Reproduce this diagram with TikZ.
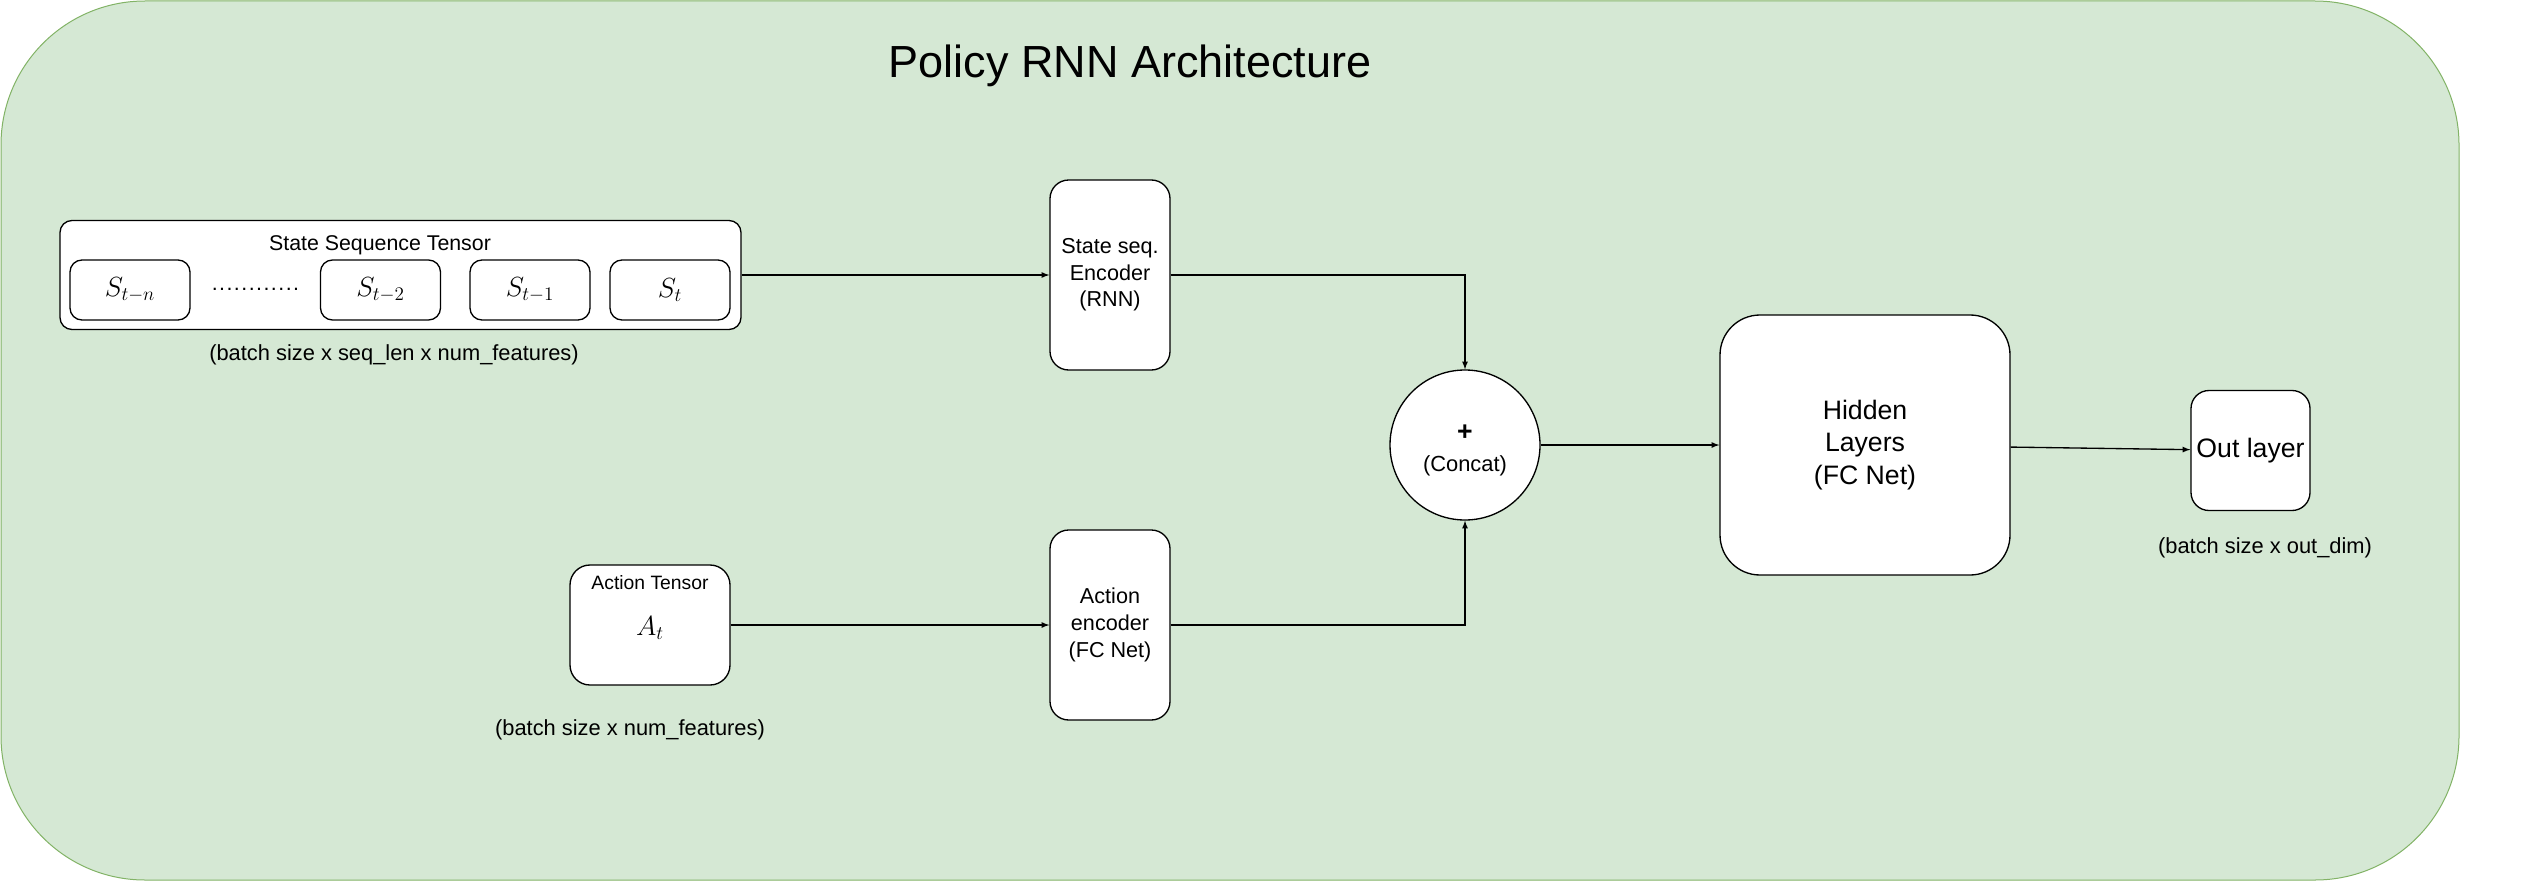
\documentclass[tikz,border=0pt]{standalone}
\usepackage[no-math]{fontspec}
\setmainfont{Liberation Sans}
\usepackage{tikz}
\definecolor{bggreen}{HTML}{D5E8D4}
\definecolor{bgline}{HTML}{82B366}
\usetikzlibrary{arrows}

\begin{document}
\begin{tikzpicture}[x=0.75pt, y=-0.75pt,
			>=latex,   %Pfeilspitzen
			line width=1pt,
			box/.style={draw, fill=white, rounded corners=#1, inner sep=0pt, align=center},
			box/.default=9pt,
			sbox/.style={box, minimum width=90pt, minimum height=45pt, font=\fontsize{20.74}{24}\selectfont},
			enc/.style={box=14pt, minimum width=90pt, minimum height=142.5pt, font=\fontsize{16.2}{20}\selectfont},
			captxt/.style={inner sep=0pt, font=\fontsize{16.4}{19}\selectfont}]
			%Hintergrund und Rahmen
			\useasboundingbox (0,0) rectangle (2531,881);
			\draw[bgline, fill=bggreen, line width=0.75pt, rounded corners=108pt] (1,1) rectangle (2459,880);
			\node (title) at (1130,66) {\fontsize{33.75}{40}\selectfont Policy RNN Architecture};
			%Zustandsfolge
			\node[box, minimum width=510.75pt, minimum height=81.75pt] (statetensor) at (400.5,275) {};
			\node[inner sep=0pt, font=\fontsize{16}{19}\selectfont] (statetitle) at (380,245) {State Sequence Tensor};
			\foreach \x/\name/\txt in {130/stn/{S_{t-n}}, 380.5/sttwo/{S_{t-2}}, 530/stone/{S_{t-1}}, 670/st/{S_t}}
				\node[sbox] (\name) at (\x,290) {$\txt$};
			\node[inner sep=0pt, font=\fontsize{16}{19}\selectfont] (dots) at (255.5,289) {\makebox[66.7pt]{\leaders\hbox to 5.55pt{\hss.\hss}\hfill}};
			\node[captxt] (capstate) at (394,355) {(batch size x seq\_len x num\_features)};
			%Aktion
			\node[box=15pt, minimum width=120pt, minimum height=90pt] (acttensor) at (650,625) {};
			\node[inner sep=0pt, font=\fontsize{14.5}{17}\selectfont] (acttitle) at (650,583) {Action Tensor};
			\node[inner sep=0pt, font=\fontsize{20.74}{24}\selectfont] (at) at (650,628) {$A_t$};
			\node[captxt] (capact) at (630,730) {(batch size x num\_features)};
			%Encoder
			\node[enc] (stateenc) at (1110,275) {State seq.\\Encoder\\(RNN)};
			\node[enc] (actenc) at (1110,625) {Action\\encoder\\(FC Net)};
			%Concat und Netz
			\node[circle, draw, fill=white, minimum size=112.5pt, inner sep=0pt] (concat) at (1465,445) {};
			\node[inner sep=0pt, font=\fontsize{20}{24}\selectfont\bfseries] (plus) at (1465,433) {+};
			\node[captxt] (concattxt) at (1465,466) {(Concat)};
			\node[box=30pt, minimum width=217.5pt, minimum height=195pt, font=\fontsize{20}{24.4}\selectfont] (hidden) at (1865,445) {Hidden\\Layers\\(FC Net)};
			\node[box=13.5pt, minimum width=89.25pt, minimum height=90pt, font=\fontsize{20}{24}\selectfont] (outlayer) at (2250.5,450.5) {Out layer};
			\node[captxt] (capout) at (2265,548) {(batch size x out\_dim)};
			%Verbindungen
			\draw[->] (statetensor) -- (stateenc);
			\draw[->] (acttensor) -- (actenc);
			\draw[->] (stateenc.east) -| (concat.north);
			\draw[->] (actenc.east) -| (concat.south);
			\draw[->] (concat) -- (hidden);
			\draw[->] (hidden) -- (outlayer);
		\end{tikzpicture}
\end{document}
